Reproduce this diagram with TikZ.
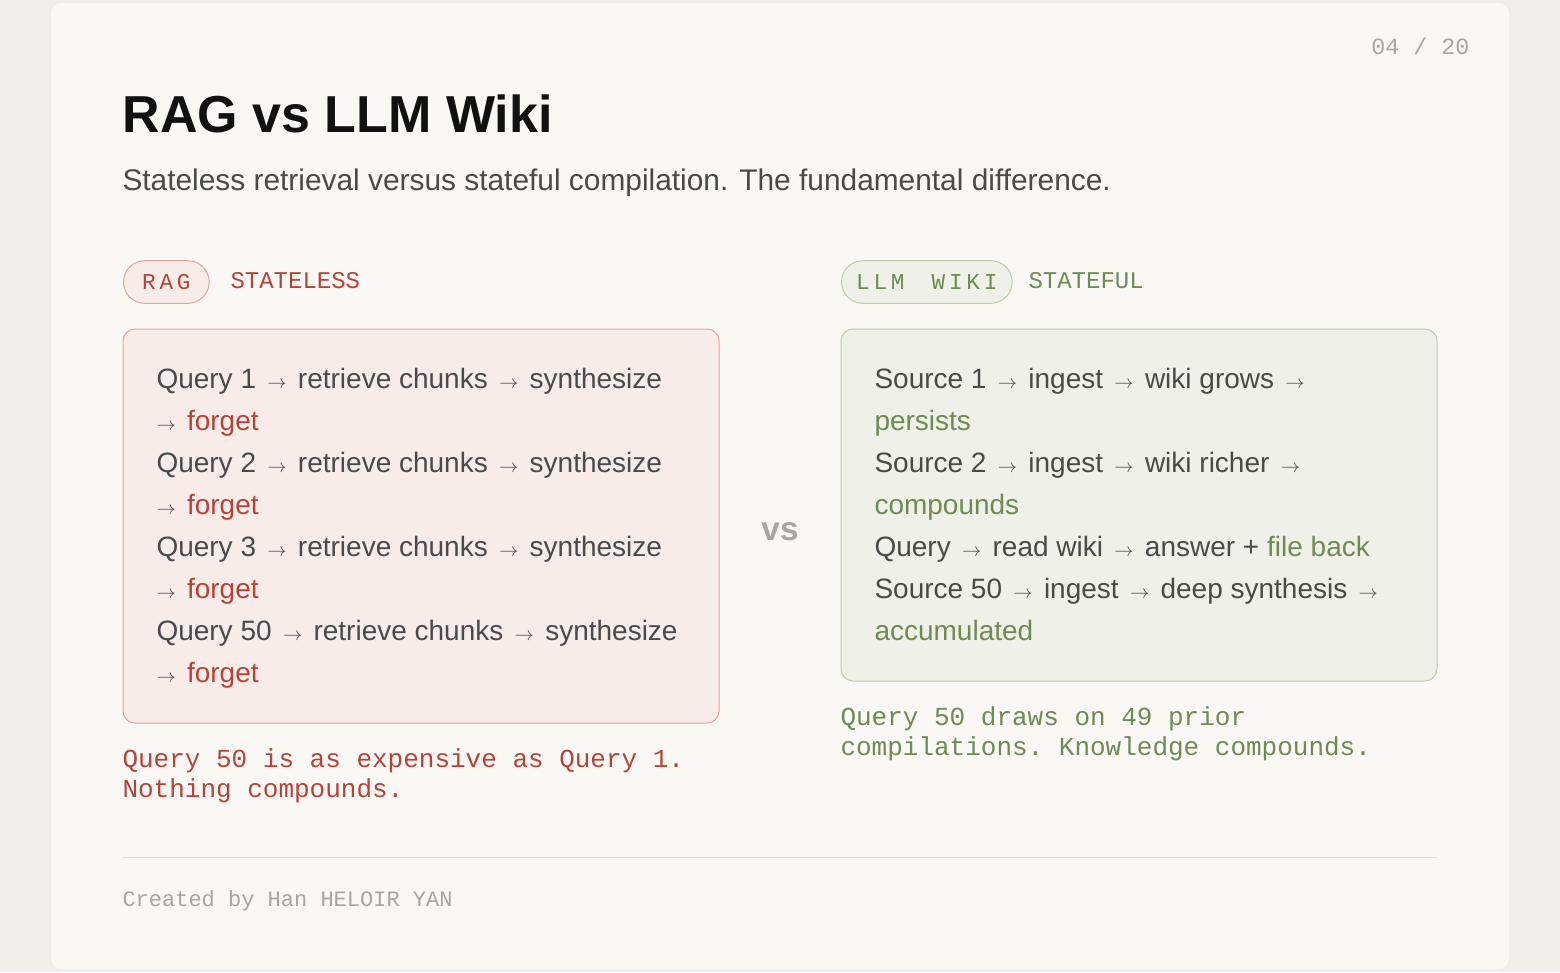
\documentclass[tikz,border=0pt]{standalone}
\usepackage{fontspec}
\setmainfont{Liberation Sans}
\setmonofont{Liberation Mono}
\definecolor{pagebg}{HTML}{F1EFEB}
\definecolor{cardbg}{HTML}{F9F8F5}
\definecolor{ink}{HTML}{111111}
\definecolor{body}{HTML}{4A4A4A}
\definecolor{ragred}{HTML}{B4443A}
\definecolor{ragfill}{HTML}{F8ECE9}
\definecolor{ragline}{HTML}{DFA49D}
\definecolor{wikigreen}{HTML}{6F8A55}
\definecolor{wikifill}{HTML}{EFF1E8}
\definecolor{wikiline}{HTML}{BACDA8}
\definecolor{soft}{HTML}{A8A6A2}
\newcommand{\ar}{\hspace{8.5pt}{\fontsize{15}{15}\selectfont$\rightarrow$}\hspace{8.5pt}}
\newcommand{\rd}[1]{\textcolor{ragred}{#1}}
\newcommand{\gr}[1]{\textcolor{wikigreen}{#1}}
\tikzset{every picture/.style={line width=0.75pt}}
\tikzset{
  line/.style={anchor=base west, inner sep=0pt, font=\fontsize{21}{24}\selectfont, text=body},
  note/.style={anchor=north west, inner sep=0pt, align=left, font=\ttfamily\fontsize{19.5}{22.5}\selectfont},
  badge/.style={rounded corners=16pt, minimum height=32pt, inner xsep=14pt, font=\ttfamily\fontsize{17}{18}\selectfont}
}
\begin{document}
\begin{tikzpicture}[x=0.75pt,y=0.75pt,yscale=-1,xscale=1]
\useasboundingbox (0,0) rectangle (1560,972);
\fill[pagebg] (0,0) rectangle (1560,972);
%Card
\draw[draw=black!8, fill=cardbg, rounded corners=9pt] (50,2) rectangle (1510,970);

% Header
\node (page) [anchor=base east, inner sep=0pt, font=\ttfamily\fontsize{17.5}{20}\selectfont, text=soft] at (1470,54) {04 / 20};
\node (title) [anchor=base west, inner sep=0pt, font=\bfseries\fontsize{39}{44}\selectfont, text=ink] at (122,132) {RAG vs LLM Wiki};
\node (subtitle) [anchor=base west, inner sep=0pt, font=\fontsize{22.4}{26}\selectfont, text=body] at (122,190) {Stateless retrieval versus stateful compilation. The fundamental difference.};

% Badges
\node (ragtag) [badge, draw=ragline, fill=ragfill, text=ragred, anchor=west] at (123,282) {R\,A\,G};
\node (raglbl) [anchor=west, inner sep=0pt, font=\ttfamily\fontsize{18}{18}\selectfont, text=ragred] at (230,281) {STATELESS};
\node (wikitag) [badge, inner xsep=11pt, draw=wikiline, fill=wikifill, text=wikigreen, anchor=west] at (841,282) {L\,L\,M\ \ W\,I\,K\,I};
\node (wikilbl) [anchor=west, inner sep=0pt, font=\ttfamily\fontsize{18}{18}\selectfont, text=wikigreen] at (1028,281) {STATEFUL};

% Boxes
\draw[draw=ragline, fill=ragfill, rounded corners=9pt] (123,329) rectangle (719,723);
\draw[draw=wikiline, fill=wikifill, rounded corners=9pt] (841,329) rectangle (1437,681);

% RAG lines
\node (r1) [line] at (156,388) {Query 1\ar retrieve chunks\ar synthesize};
\node (r2) [line] at (156,430) {\hspace{-8.5pt}\ar\rd{forget}};
\node (r3) [line] at (156,472) {Query 2\ar retrieve chunks\ar synthesize};
\node (r4) [line] at (156,514) {\hspace{-8.5pt}\ar\rd{forget}};
\node (r5) [line] at (156,556) {Query 3\ar retrieve chunks\ar synthesize};
\node (r6) [line] at (156,598) {\hspace{-8.5pt}\ar\rd{forget}};
\node (r7) [line] at (156,640) {Query 50\ar retrieve chunks\ar synthesize};
\node (r8) [line] at (156,682) {\hspace{-8.5pt}\ar\rd{forget}};

% Wiki lines
\node (w1) [line] at (874,388) {Source 1\ar ingest\ar wiki grows\ar};
\node (w2) [line] at (874,430) {\gr{persists}};
\node (w3) [line] at (874,472) {Source 2\ar ingest\ar wiki richer\ar};
\node (w4) [line] at (874,514) {\gr{compounds}};
\node (w5) [line] at (874,556) {Query\ar read wiki\ar answer + \gr{file back}};
\node (w6) [line] at (874,598) {Source 50\ar ingest\ar deep synthesis\ar};
\node (w7) [line] at (874,640) {\gr{accumulated}};

% vs
\node (vs) [inner sep=0pt, font=\bfseries\fontsize{25}{30}\selectfont, text=soft] at (780,532) {vs};

% Notes
\node (ragnote) [note, text=ragred] at (122,748) {Query 50 is as expensive as Query 1.\\Nothing compounds.};
\node (wikinote) [note, text=wikigreen] at (840,706) {Query 50 draws on 49 prior\\compilations. Knowledge compounds.};

% Footer
\draw[black!12] (122,857) -- (1437,857);
\node (credit) [anchor=base west, inner sep=0pt, font=\ttfamily\fontsize{16.5}{18}\selectfont, text=soft] at (122,906) {Created by Han HELOIR YAN};
\end{tikzpicture}
\end{document}
